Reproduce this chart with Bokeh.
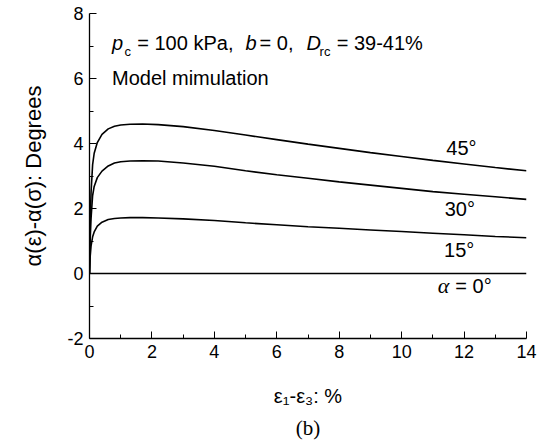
from bokeh.plotting import figure
from bokeh.models import FixedTicker, Range1d, Title
from bokeh.core.properties import value
from bokeh.embed import file_html
from bokeh.resources import INLINE

# strain eps1-eps3 (%)
strain = [0, 0.02, 0.05, 0.1, 0.15, 0.25, 0.4, 0.6, 0.8, 1.0, 1.3, 1.7, 2.2, 3, 4, 5, 6, 7, 8, 9, 10, 11, 12, 13, 14]
# alpha(eps) - alpha(sigma), degrees
a45 = [0, 1.5, 2.5, 3.35, 3.7, 4.03, 4.28, 4.45, 4.53, 4.57, 4.59, 4.6, 4.58, 4.52, 4.4, 4.26, 4.12, 3.98, 3.85, 3.72, 3.6, 3.48, 3.37, 3.26, 3.16]
a30 = [0, 1.0, 1.7, 2.4, 2.68, 2.95, 3.15, 3.31, 3.4, 3.44, 3.46, 3.47, 3.46, 3.4, 3.3, 3.16, 3.04, 2.93, 2.82, 2.72, 2.62, 2.52, 2.44, 2.36, 2.28]
a15 = [0, 0.5, 0.85, 1.13, 1.28, 1.46, 1.58, 1.66, 1.69, 1.71, 1.72, 1.72, 1.71, 1.68, 1.63, 1.56, 1.5, 1.44, 1.39, 1.34, 1.29, 1.24, 1.19, 1.14, 1.10]
a0 = [0] * len(strain)

x_ticks = [0, 2, 4, 6, 8, 10, 12, 14]
x_minor = [1, 3, 5, 7, 9, 11, 13]
y_ticks = [-2, 0, 2, 4, 6, 8]
y_minor = [-1, 1, 3, 5, 7]
y_tick_labels = {-2: "-2", 0: "0", 2: "2", 4: "4", 6: "6", 8: "8"}

SANS = "Liberation Sans"
SERIF = "Liberation Serif"

p = figure(width=550, height=446, output_backend="svg", toolbar_location=None,
           x_range=Range1d(0, 14), y_range=Range1d(-2, 8),
           min_border_left=89, min_border_right=24, min_border_top=13, min_border_bottom=108)
p.outline_line_color = None
p.grid.visible = False
p.background_fill_color = "white"
p.border_fill_color = "white"

for ax in (p.xaxis[0], p.yaxis[0]):
    ax.axis_line_color = "black"
    ax.axis_line_width = 1.3
    ax.major_tick_line_color = "black"
    ax.minor_tick_line_color = "black"
    ax.major_tick_in = 7
    ax.major_tick_out = 0
    ax.minor_tick_in = 4
    ax.minor_tick_out = 0
    ax.major_label_text_font = SANS
    ax.major_label_text_font_size = "18px"
    ax.major_label_text_color = "black"
    ax.axis_label_text_font = SANS
    ax.axis_label_text_font_style = "normal"
    ax.axis_label_text_color = "black"

p.xaxis[0].ticker = FixedTicker(ticks=x_ticks, minor_ticks=x_minor)
p.yaxis[0].ticker = FixedTicker(ticks=y_ticks, minor_ticks=y_minor)
p.yaxis[0].major_label_overrides = y_tick_labels
p.xaxis[0].major_label_standoff = 6
p.yaxis[0].major_label_standoff = 6

p.xaxis[0].axis_label = "ε₁-ε₃: %"
p.xaxis[0].axis_label_text_font_size = "20px"
p.xaxis[0].axis_label_standoff = 24
p.yaxis[0].axis_label = "α(ε)-α(σ): Degrees"
p.yaxis[0].axis_label_text_font_size = "22px"
p.yaxis[0].axis_label_standoff = 18

for ys in (a45, a30, a15, a0):
    p.line(strain, ys, line_color="black", line_width=1.6)

def txt(x, y, s, size="20px", style="normal", font=SANS, baseline="alphabetic"):
    p.text(x=[x], y=[y], text=[s], text_font=value(font), text_font_size=size,
           text_font_style=style, text_color="black", text_baseline=baseline, text_align="left")

# header annotation
txt(0.72, 7.09, "p", style="italic")
txt(1.12, 6.83, "c", size="13px")
txt(1.53, 7.09, "= 100 kPa,")
txt(5.0, 7.09, "b", style="italic")
txt(5.45, 7.09, "= 0,")
txt(6.955, 7.09, "D", style="italic")
txt(7.37, 6.83, "rc", size="13px")
txt(7.92, 7.09, "= 39-41%")
txt(0.72, 6.03, "Model mimulation")

# curve labels
txt(11.43, 3.86, "45°", baseline="middle")
txt(11.38, 1.99, "30°", baseline="middle")
txt(11.36, 0.73, "15°", baseline="middle")
txt(11.16, -0.38, "α", style="italic", font=SERIF, baseline="middle", size="22px")
txt(11.72, -0.38, "= 0°", baseline="middle")

p.add_layout(Title(text="(b)", align="center", text_font=SERIF, text_font_size="21px",
                   text_font_style="normal", text_color="black", standoff=8), "below")

open("out.html", "w").write(file_html(p, INLINE))
